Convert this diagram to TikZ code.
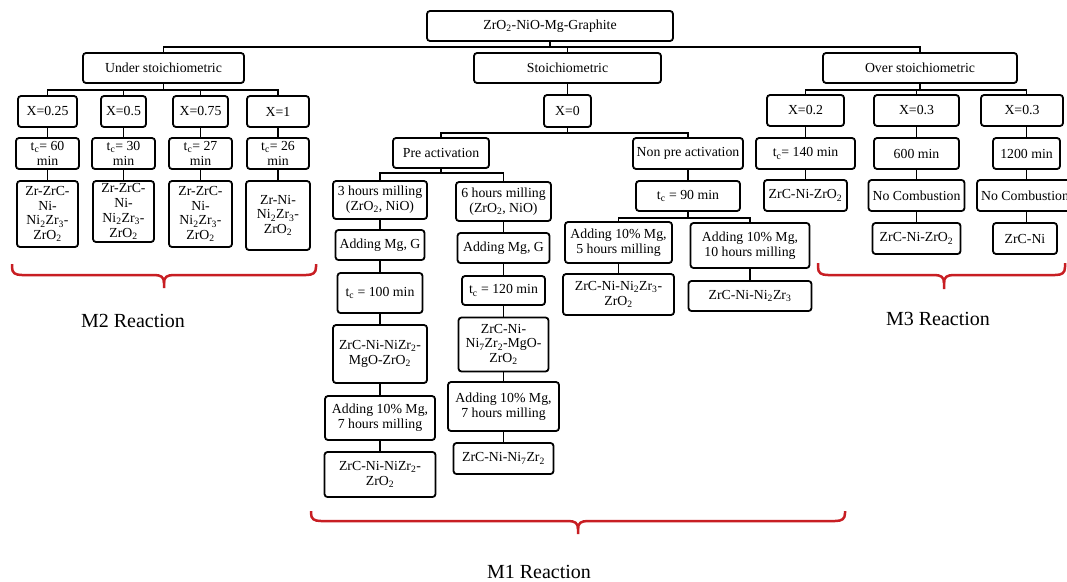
\documentclass[tikz,border=0pt]{standalone}
\usepackage{fontspec}
\setmainfont{Liberation Serif}
\definecolor{bred}{RGB}{200,30,35}
\newcommand\sbs[1]{\textsubscript{#1}}
% manual brace: #1 left x, #2 right x, #3 tip x, #4 top y, #5 line y, #6 tip y
\newcommand\mybrace[6]{%
  \draw[brc] (#1,#4) -- (#1,#5-8) .. controls (#1,#5-2) and (#1+3,#5) .. (#1+10,#5) -- (#3-10,#5)
     .. controls (#3-3,#5) and (#3,#5+2) .. (#3,#5+8) -- (#3,#6);
  \draw[brc] (#2,#4) -- (#2,#5-8) .. controls (#2,#5-2) and (#2-3,#5) .. (#2-10,#5) -- (#3+10,#5)
     .. controls (#3+3,#5) and (#3,#5+2) .. (#3,#5+8);}
\begin{document}
\begin{tikzpicture}[x=1pt,y=-1pt,
  box/.style={draw, line width=1.8pt, rounded corners=3pt, align=center, inner sep=1pt,
    font=\fontsize{13.8}{14.8}\selectfont},
  wh/.style 2 args={minimum width=#1pt, minimum height=#2pt},
  conn/.style={line width=1.5pt},
  brc/.style={draw=bred, line width=2.5pt, line cap=butt, line join=round},
  lbl/.style={font=\fontsize{20}{24}\selectfont, inner sep=0pt}]
\fill[white] (0,0) rectangle (1067,581);
\useasboundingbox (0,0) rectangle (1067,581);

% bus coordinates
\coordinate (b0) at (0,47);
\coordinate (b1) at (0,90);
\coordinate (b2) at (0,133);
\coordinate (b3) at (0,173);
\coordinate (b4) at (0,218);

% top levels
\node[box, wh={246}{30}] (top) at (550,26) {ZrO\sbs{2}-NiO-Mg-Graphite};
\node[box, wh={161}{30}] (under) at (163.5,68) {Under stoichiometric};
\node[box, wh={187}{30}] (stoich) at (567.5,68) {Stoichiometric};
\node[box, wh={194}{30}] (over) at (920,68) {Over stoichiometric};

% under stoichiometric
\node[box, wh={59}{31}] (x025) at (47.5,111.5) {X=0.25};
\node[box, wh={45}{31}] (x05) at (123.5,111.5) {X=0.5};
\node[box, wh={55}{31}] (x075) at (200.5,111.5) {X=0.75};
\node[box, wh={62}{31}] (x1) at (278,111.5) {X=1};
\node[box, wh={63}{31}] (t60) at (47.5,153.5) {t\sbs{c}= 60\\min};
\node[box, wh={63}{31}] (t30) at (123.5,153.5) {t\sbs{c}= 30\\min};
\node[box, wh={63}{31}] (t27) at (200.5,153.5) {t\sbs{c}= 27\\min};
\node[box, wh={62}{31}] (t26) at (278,153.5) {t\sbs{c}= 26\\min};
\node[box, wh={61}{66}] (p1) at (47.5,214) {Zr-ZrC-\\Ni-\\Ni\sbs{2}Zr\sbs{3}-\\ZrO\sbs{2}};
\node[box, wh={61}{61}] (p2) at (123.5,211.5) {Zr-ZrC-\\Ni-\\Ni\sbs{2}Zr\sbs{3}-\\ZrO\sbs{2}};
\node[box, wh={63}{66}] (p3) at (200.5,214) {Zr-ZrC-\\Ni-\\Ni\sbs{2}Zr\sbs{3}-\\ZrO\sbs{2}};
\node[box, wh={64}{69}] (p4) at (278,215.5) {Zr-Ni-\\Ni\sbs{2}Zr\sbs{3}-\\ZrO\sbs{2}};

% stoichiometric
\node[box, wh={47}{32}] (x0) at (567.5,111) {X=0};
\node[box, wh={96}{30}] (pre) at (441,153) {Pre activation};
\node[box, wh={110}{31}] (nonpre) at (688,153.5) {Non pre activation};
\node[box, wh={94}{38}] (m3) at (380,200) {3 hours milling\\(ZrO\sbs{2}, NiO)};
\node[box, wh={95}{39}] (m6) at (503.5,201.5) {6 hours milling\\(ZrO\sbs{2}, NiO)};
\node[box, wh={89}{30}] (addL) at (380,245) {Adding Mg, G};
\node[box, wh={92}{30}] (addR) at (503.5,248) {Adding Mg, G};
\node[box, wh={85}{40}] (t100) at (380,293) {t\sbs{c} = 100 min};
\node[box, wh={83}{29}] (t120) at (503.5,290.5) {t\sbs{c} = 120 min};
\node[box, wh={94}{58}] (pL) at (380,354) {ZrC-Ni-NiZr\sbs{2}-\\MgO-ZrO\sbs{2}};
\node[box, wh={90}{54}] (pR) at (503.5,344.5) {ZrC-Ni-\\Ni\sbs{7}Zr\sbs{2}-MgO-\\ZrO\sbs{2}};
\node[box, wh={110}{44}] (aL) at (380,418) {Adding 10\% Mg,\\7 hours milling};
\node[box, wh={111}{49}] (aR) at (503.5,406.5) {Adding 10\% Mg,\\7 hours milling};
\node[box, wh={111}{45}] (fL) at (380,474.5) {ZrC-Ni-NiZr\sbs{2}-\\ZrO\sbs{2}};
\node[box, wh={100}{31}] (fR) at (503.5,458.5) {ZrC-Ni-Ni\sbs{7}Zr\sbs{2}};
\node[box, wh={104}{30}] (t90) at (688,196) {t\sbs{c} = 90 min};
\node[box, wh={107}{41}] (a5) at (618.5,242.5) {Adding 10\% Mg,\\5 hours milling};
\node[box, wh={119}{45}] (a10) at (750,245.5) {Adding 10\% Mg,\\10 hours milling};
\node[box, wh={111}{41}] (f5) at (618.5,294.5) {ZrC-Ni-Ni\sbs{2}Zr\sbs{3}-\\ZrO\sbs{2}};
\node[box, wh={123}{30}] (f10) at (750,296) {ZrC-Ni-Ni\sbs{2}Zr\sbs{3}};

% over stoichiometric
\node[box, wh={77}{31}] (x02) at (805.5,110.5) {X=0.2};
\node[box, wh={85}{31}] (x03a) at (916.5,110.5) {X=0.3};
\node[box, wh={82}{31}] (x03b) at (1022,110.5) {X=0.3};
\node[box, wh={99}{31}] (t140) at (805.5,153.5) {t\sbs{c}= 140 min};
\node[box, wh={85}{31}] (t600) at (916.5,153.5) {600 min};
\node[box, wh={67}{31}] (t1200) at (1026.5,153.5) {1200 min};
\node[box, wh={83}{31}] (zL) at (805.5,195.5) {ZrC-Ni-ZrO\sbs{2}};
\node[box, wh={96}{31}] (ncA) at (916.5,195.5) {No Combustion};
\node[box, wh={96}{31}] (ncB) at (1025,195.5) {No Combustion};
\node[box, wh={88}{31}] (zM) at (916.5,238.5) {ZrC-Ni-ZrO\sbs{2}};
\node[box, wh={64}{31}] (zN) at (1025,238.5) {ZrC-Ni};

% connectors: top level
\draw[conn] (top.south) -- (top.south |- b0);
\draw[conn] (under.north) -- (under.north |- b0) -- (over.north |- b0) -- (over.north);
\draw[conn] (stoich.north) -- (stoich.north |- b0);

% connectors: under
\draw[conn] (under.south) -- (under.south |- b1);
\draw[conn] (x025.north) -- (x025.north |- b1) -- (x1.north |- b1) -- (x1.north);
\draw[conn] (x05.north) -- (x05.north |- b1);
\draw[conn] (x075.north) -- (x075.north |- b1);
\draw[conn] (x025) -- (t60);
\draw[conn] (x05) -- (t30);
\draw[conn] (x075) -- (t27);
\draw[conn] (x1) -- (t26);
\draw[conn] (t60) -- (p1);
\draw[conn] (t30) -- (p2);
\draw[conn] (t27) -- (p3);
\draw[conn] (t26) -- (p4);

% connectors: stoichiometric
\draw[conn] (stoich) -- (x0);
\draw[conn] (x0.south) -- (x0.south |- b2);
\draw[conn] (pre.north) -- (pre.north |- b2) -- (nonpre.north |- b2) -- (nonpre.north);
\draw[conn] (pre.south) -- (pre.south |- b3);
\draw[conn] (m3.north) -- (m3.north |- b3) -- (m6.north |- b3) -- (m6.north);
\draw[conn] (m3) -- (addL);
\draw[conn] (addL) -- (t100);
\draw[conn] (t100) -- (pL);
\draw[conn] (pL) -- (aL);
\draw[conn] (aL) -- (fL);
\draw[conn] (m6) -- (addR);
\draw[conn] (addR) -- (t120);
\draw[conn] (t120) -- (pR);
\draw[conn] (pR) -- (aR);
\draw[conn] (aR) -- (fR);
\draw[conn] (nonpre) -- (t90);
\draw[conn] (t90.south) -- (t90.south |- b4);
\draw[conn] (a5.north) -- (a5.north |- b4) -- (a10.north |- b4) -- (a10.north);
\draw[conn] (a5) -- (f5);
\draw[conn] (a10) -- (f10);

% connectors: over
\draw[conn] (over.south) -- (over.south |- b1);
\draw[conn] (x02.north) -- (x02.north |- b1) -- (t1200.north |- b1) -- (x03b.north -| t1200.north);
\draw[conn] (x03a.north) -- (x03a.north |- b1);
\draw[conn] (x02) -- (t140);
\draw[conn] (t140) -- (zL);
\draw[conn] (x03a) -- (t600);
\draw[conn] (t600) -- (ncA);
\draw[conn] (ncA) -- (zM);
\draw[conn] (t1200.north) -- (t1200.north |- x03b.south);
\draw[conn] (ncB.north -| t1200.south) -- (t1200.south);
\draw[conn] (zN.north -| t1200.south) -- (ncB.south -| t1200.south);

% braces
\mybrace{12}{316}{164}{264}{275}{288}
\mybrace{818}{1065}{944}{263}{275}{289}
\mybrace{311}{845}{578}{511}{521}{534}

% labels
\node[lbl] (m2lbl) at (133,321) {M2 Reaction};
\node[lbl] (m3lbl) at (938,319) {M3 Reaction};
\node[lbl] (m1lbl) at (539,572) {M1 Reaction};
\end{tikzpicture}
\end{document}
